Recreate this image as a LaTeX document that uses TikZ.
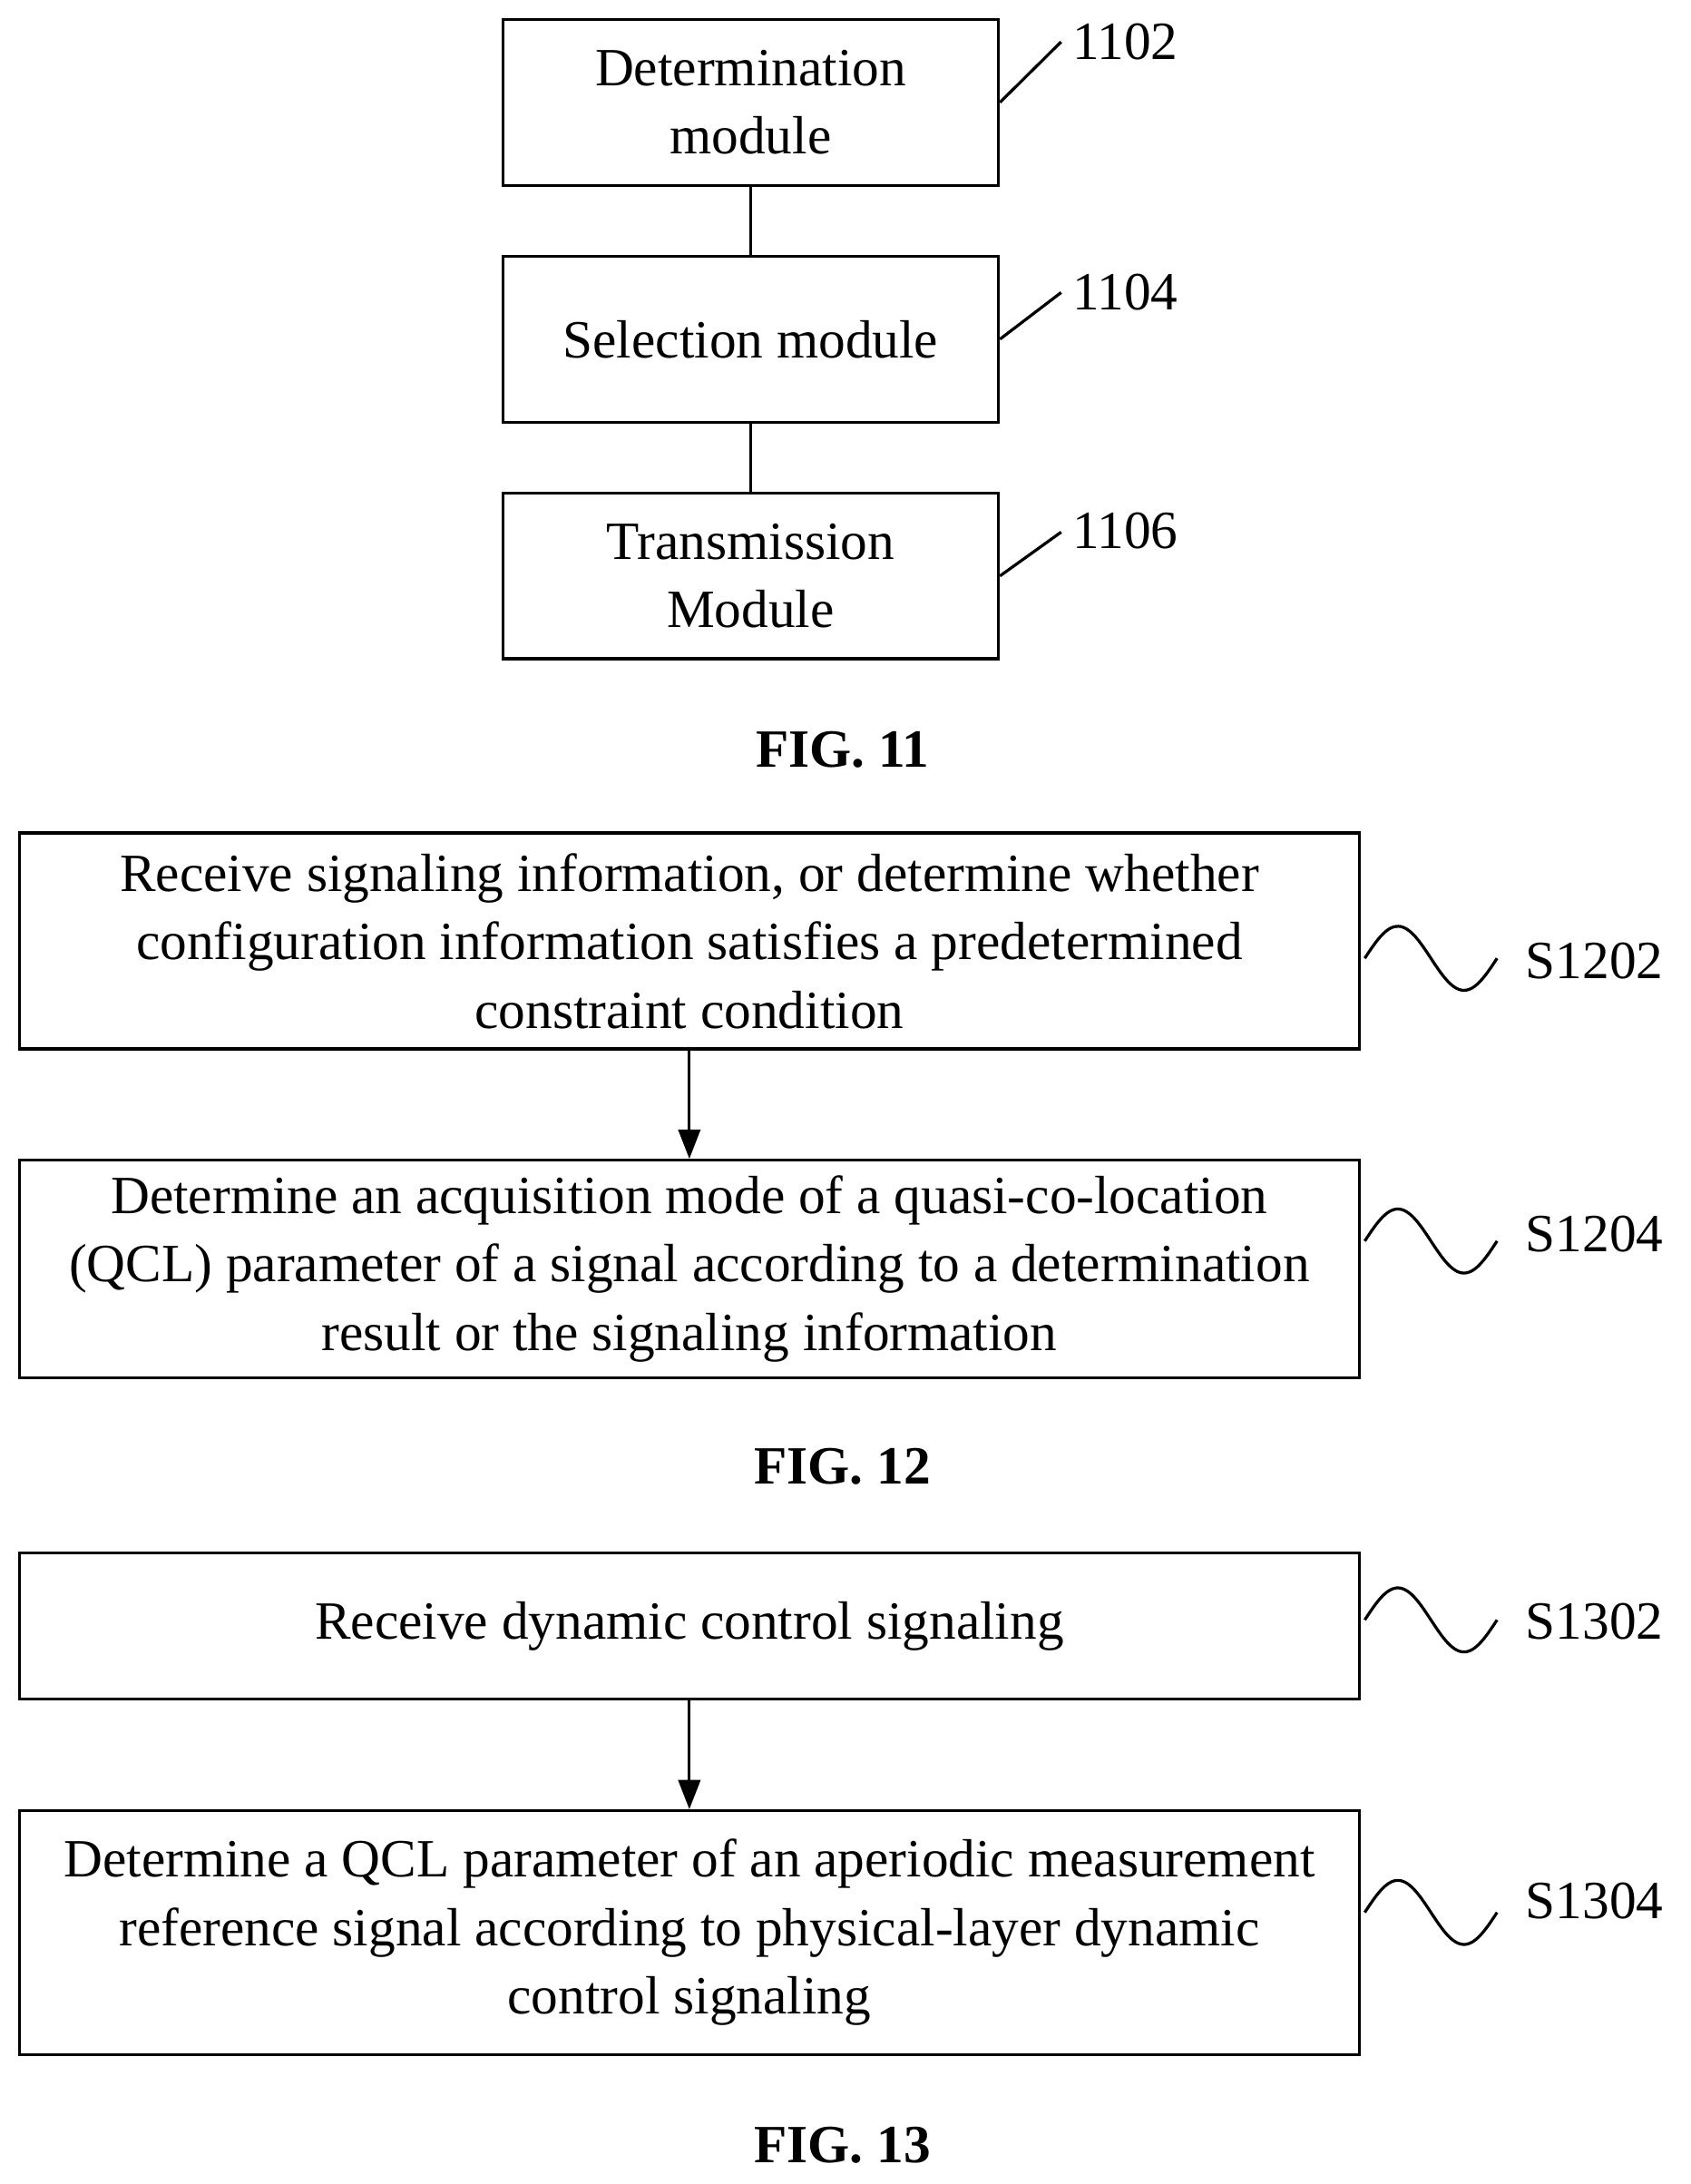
\documentclass[tikz,border=0pt]{standalone}
\usepackage{fontspec}
\setmainfont{Liberation Serif}
\usetikzlibrary{arrows.meta}
\begin{document}
\begin{tikzpicture}[x=0.02cm,y=-0.02cm,
  box/.style={draw,line width=1.2pt,inner sep=0pt,align=center,font=\fontsize{22}{28}\selectfont},
  lab/.style={font=\fontsize{22}{28}\selectfont,inner sep=0pt},
  fig/.style={font=\fontsize{22}{28}\selectfont\bfseries,inner sep=0pt},
  ln/.style={line width=1.2pt},
  arr/.style={line width=1.2pt,-{Triangle[length=12pt,width=9pt]}},
  wave/.style={line width=1.2pt}]
\useasboundingbox (0,0) rectangle (1214,1568);
% FIG 11
\node[box,minimum width=356*0.02cm,minimum height=119*0.02cm] (d) at (539,73.5) {Determination\\module};
\node[box,minimum width=356*0.02cm,minimum height=119*0.02cm] (s) at (539,243.5) {Selection module};
\node[box,minimum width=356*0.02cm,minimum height=119*0.02cm] (t) at (539,413.5) {Transmission\\Module};
\draw[ln] (d.south) -- (s.north);
\draw[ln] (s.south) -- (t.north);
\node[lab] (l1) at (808,30) {1102};
\node[lab] (l2) at (808,210) {1104};
\node[lab] (l3) at (808,381) {1106};
\draw[ln] (d.east) -- (762,30);
\draw[ln] (s.east) -- (762,210);
\draw[ln] (t.east) -- (762,382);
\node[fig] (f11) at (605,538) {FIG. 11};
% FIG 12
\node[box,minimum width=962*0.02cm,minimum height=155*0.02cm] (a1) at (495,675.5) {Receive signaling information, or determine whether\\configuration information satisfies a predetermined\\constraint condition};
\node[box,minimum width=962*0.02cm,minimum height=156*0.02cm] (a2) at (495,911) {Determine an acquisition mode of a quasi-co-location\\(QCL) parameter of a signal according to a determination\\result or the signaling information};
\draw[arr] (a1.south) -- (a2.north);
\node[lab] (s1202) at (1145,690) {S1202};
\node[lab] (s1204) at (1145,886) {S1204};
\node[fig] (f12) at (605,1053) {FIG. 12};
% FIG 13
\node[box,minimum width=962*0.02cm,minimum height=105*0.02cm] (b1) at (495,1167.5) {Receive dynamic control signaling};
\node[box,minimum width=962*0.02cm,minimum height=175*0.02cm] (b2) at (495,1387.5) {Determine a QCL parameter of an aperiodic measurement\\reference signal according to physical-layer dynamic\\control signaling};
\draw[arr] (b1.south) -- (b2.north);
\node[lab] (s1302) at (1145,1164) {S1302};
\node[lab] (s1304) at (1145,1365) {S1304};
\node[fig] (f13) at (605,1540) {FIG. 13};
% waves
\foreach \yy in {688,891,1163,1373}{
  \draw[wave] plot[domain=0:360,samples=60,smooth] ({980+\x/360*95},{\yy-23*sin(\x)});
}
\end{tikzpicture}
\end{document}
